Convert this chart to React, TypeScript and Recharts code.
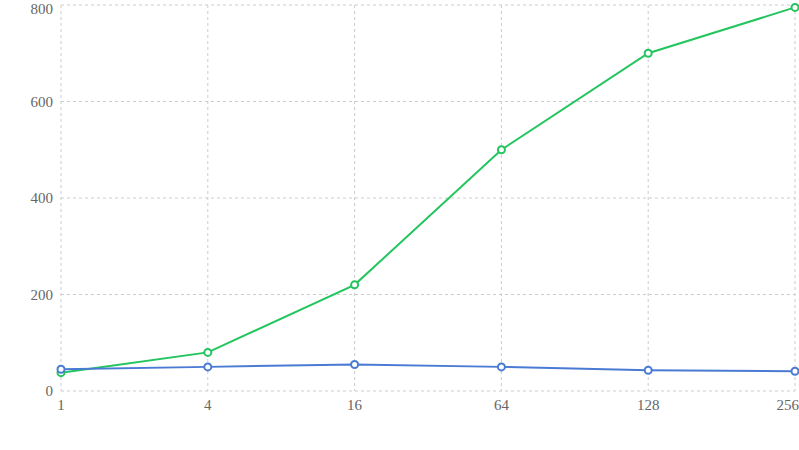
import { LineChart, Line, XAxis, YAxis, CartesianGrid } from 'recharts'

const categories = ['1', '4', '16', '64', '128', '256']
const greenValues = [38, 80, 220, 500, 700, 795]
const blueValues = [45, 50, 55, 50, 43, 41]
const yTicks = [0, 200, 400, 600, 800]

const data = categories.map((name, i) => ({
  name,
  green: greenValues[i],
  blue: blueValues[i],
}))

const CHART_W = 799
const textStyle = { fontFamily: "'Liberation Serif', 'Times New Roman', serif", fontSize: 15 }

const XTick = (props: any) => {
  const { x, y, payload } = props
  const label = String(payload.value)
  const halfW = label.length * 3.75
  // keep the last label inside the picture, like the original
  const overflow = x + halfW > CHART_W
  return (
    <text
      x={overflow ? CHART_W : x}
      y={y}
      dy="0.71em"
      textAnchor={overflow ? 'end' : 'middle'}
      fill="#666"
      style={textStyle}
    >
      {label}
    </text>
  )
}

const YTick = (props: any) => {
  const { x, y, payload } = props
  return (
    <text x={x} y={y} dy="0.355em" textAnchor="end" fill="#666" style={textStyle}>
      {payload.value}
    </text>
  )
}

export default function App() {
  return (
    <div style={{ position: 'absolute', left: 0, top: 0 }}>
      <LineChart width={CHART_W} height={450} data={data} margin={{ top: 5, right: 4, bottom: 29, left: 0 }}>
        <CartesianGrid strokeDasharray="3 3" stroke="#ccc" />
        <XAxis dataKey="name" axisLine={false} tickLine={false} tick={<XTick />} height={30} interval={0} />
        <YAxis domain={[0, 800]} ticks={yTicks} axisLine={false} tickLine={false} tick={<YTick />} width={61} />
        <Line
          type="linear"
          dataKey="green"
          stroke="#22c55e"
          strokeWidth={2}
          dot={{ r: 3.5, fill: '#fff', strokeWidth: 2 }}
          isAnimationActive={false}
        />
        <Line
          type="linear"
          dataKey="blue"
          stroke="#4a7bd4"
          strokeWidth={2}
          dot={{ r: 3.5, fill: '#fff', strokeWidth: 2 }}
          isAnimationActive={false}
        />
      </LineChart>
    </div>
  )
}
